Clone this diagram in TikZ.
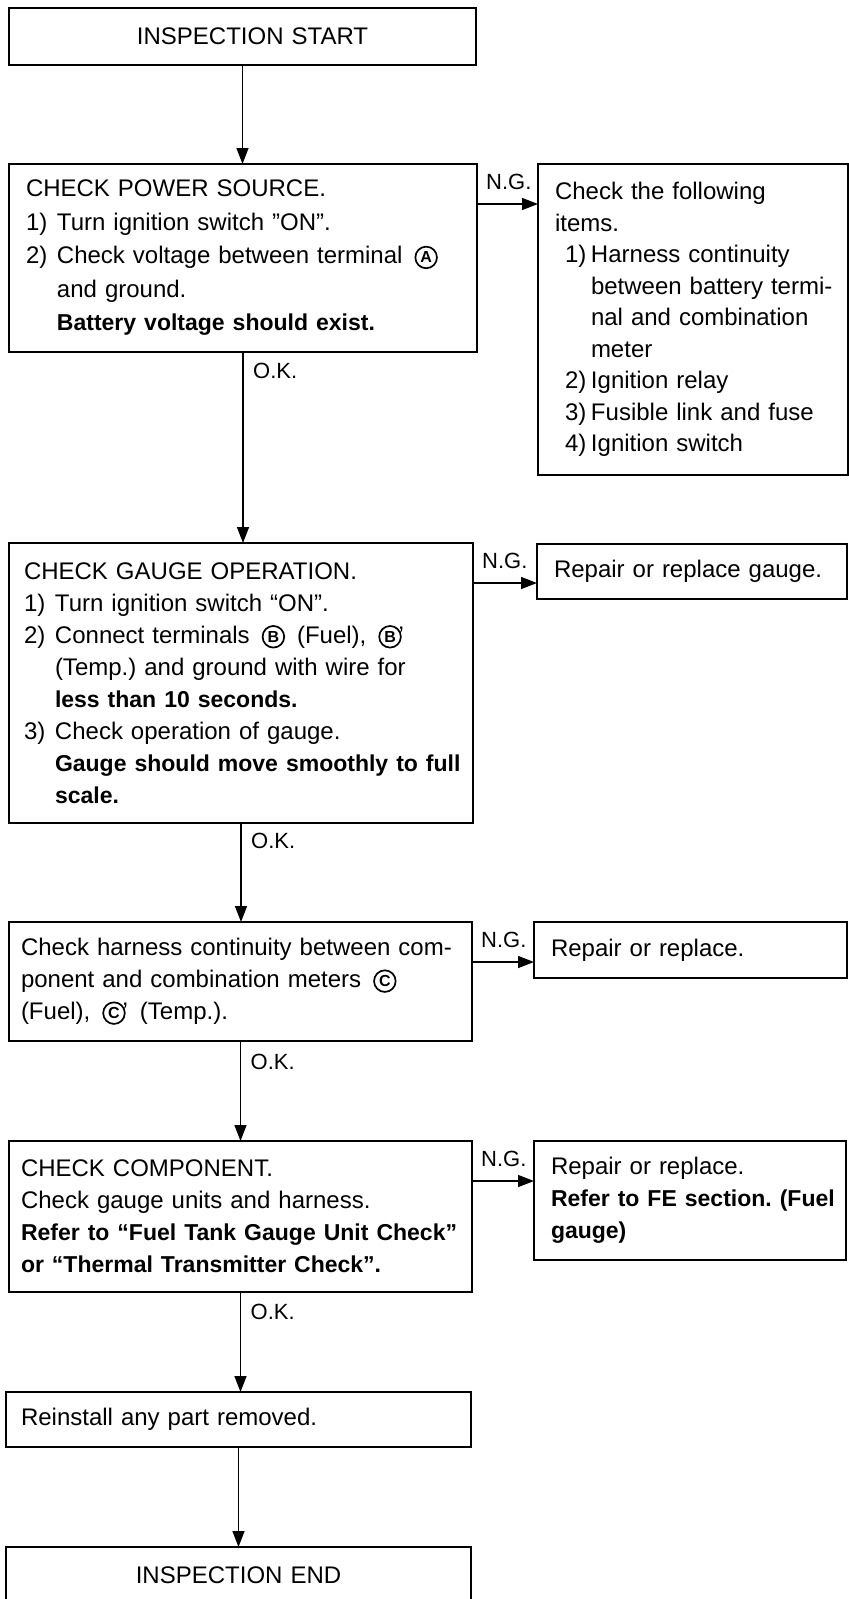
\documentclass[tikz,border=0pt]{standalone}
\usepackage{fontspec}
\setmainfont{Liberation Sans}
\usetikzlibrary{arrows.meta,calc}
\newcommand{\bt}[1]{{\bfseries\fontsize{23}{\the\baselineskip}\selectfont #1}}
\newcommand{\num}[1]{\makebox[31pt][l]{#1}}
\newcommand{\rnum}[1]{\hspace*{10pt}\makebox[26pt][l]{#1}}
\newsavebox\circA
\newsavebox\circB
\newsavebox\circC
\newcommand{\mkcirc}[2]{\sbox#1{\pgfpicture\pgfsetlinewidth{1.7pt}%
  \pgfpathcircle{\pgfpointorigin}{10.8pt}\pgfusepath{stroke}%
  \pgftext{\bfseries\fontsize{16}{16}\selectfont #2}%
  \pgfsetbaseline{-6.5pt}\endpgfpicture}}
\begin{document}
\frenchspacing
\mkcirc{\circA}{A}\mkcirc{\circB}{B}\mkcirc{\circC}{C}%
\begin{tikzpicture}[x=1pt,y=-1pt,
  box/.style={draw, line width=1.8pt, anchor=north west, outer sep=0pt,
    inner ysep=0pt, align=left},
  arr/.style={line width=1.4pt, -{Triangle[length=16pt,width=12pt]}},
  lab/.style={font=\fontsize{22}{22}\selectfont, inner sep=0pt, anchor=west}
]
\useasboundingbox (0,0) rectangle (849,1599);
\fill[white] (0,0) rectangle (849,1599);

% left column
\node[box, align=center, text width=467pt, inner xsep=0pt, minimum height=57pt,
  font=\fontsize{24}{30}\selectfont] (start) at (9,8) {\hspace*{20pt}INSPECTION START};

\node[box, text width=434pt, inner xsep=17pt, minimum height=188pt,
  font=\fontsize{24}{33.5}\selectfont] (b1) at (9,164) {%
\mbox{CHECK POWER SOURCE.}\\
\mbox{\num{1)}Turn ignition switch ''ON''.}\\
\mbox{\num{2)}Check voltage between terminal \,\usebox\circA}\\
\mbox{\hspace*{31pt}and ground.}\\
\mbox{\hspace*{31pt}\bt{Battery voltage should exist.}}};

\node[box, text width=276pt, inner xsep=17pt, minimum height=311pt,
  font=\fontsize{24}{31.5}\selectfont] (r1) at (538,164) {%
\mbox{Check the following}\\
\mbox{items.}\\
\mbox{\rnum{1)}Harness continuity}\\
\mbox{\hspace*{36pt}between battery termi-}\\
\mbox{\hspace*{36pt}nal and combination}\\
\mbox{\hspace*{36pt}meter}\\
\mbox{\rnum{2)}Ignition relay}\\
\mbox{\rnum{3)}Fusible link and fuse}\\
\mbox{\rnum{4)}Ignition switch}};

\node[box, text width=434pt, inner xsep=15pt, minimum height=280pt,
  font=\fontsize{24}{32}\selectfont] (b2) at (9,543) {%
\mbox{CHECK GAUGE OPERATION.}\\
\mbox{\num{1)}Turn ignition switch ``ON''.}\\
\mbox{\num{2)}Connect terminals \,\usebox\circB\, (Fuel), \,\usebox\circB\kern-3pt'}\\
\mbox{\hspace*{31pt}(Temp.) and ground with wire for}\\
\mbox{\hspace*{31pt}\bt{less than 10 seconds.}}\\
\mbox{\num{3)}Check operation of gauge.}\\
\mbox{\hspace*{31pt}\bt{Gauge should move smoothly to full}}\\
\mbox{\hspace*{31pt}\bt{scale.}}};

\node[box, text width=276pt, inner xsep=17pt, minimum height=55pt,
  font=\fontsize{24}{32}\selectfont] (r2) at (537,544) {\mbox{Repair or replace gauge.}};

\node[box, text width=439pt, inner xsep=12pt, minimum height=119pt,
  font=\fontsize{24}{32}\selectfont] (b3) at (9,922) {%
\mbox{Check harness continuity between com-}\\
\mbox{ponent and combination meters \,\usebox\circC}\\
\mbox{(Fuel), \,\usebox\circC\kern-3pt'\, (Temp.).}};

\node[box, text width=279pt, inner xsep=17pt, minimum height=56pt,
  font=\fontsize{24}{32}\selectfont] (r3) at (534,922) {\mbox{Repair or replace.}};

\node[box, text width=439pt, inner xsep=12pt, minimum height=151pt,
  font=\fontsize{24}{32}\selectfont] (b4) at (9,1141) {%
\mbox{CHECK COMPONENT.}\\
\mbox{Check gauge units and harness.}\\
\mbox{\bt{Refer to ``Fuel Tank Gauge Unit Check''}}\\
\mbox{\bt{or ``Thermal Transmitter Check''.}}};

\node[box, text width=278pt, inner xsep=17pt, minimum height=119pt,
  font=\fontsize{24}{32}\selectfont] (r4) at (534,1141) {%
\mbox{Repair or replace.}\\
\mbox{\bt{Refer to FE section. (Fuel}}\\
\mbox{\bt{gauge)}}};

\node[box, text width=435pt, inner xsep=15pt, minimum height=55pt,
  font=\fontsize{24}{32}\selectfont] (b5) at (6,1392) {\mbox{Reinstall any part removed.}};

\node[box, align=center, text width=465pt, inner xsep=0pt, minimum height=56pt,
  font=\fontsize{24}{30}\selectfont] (endb) at (6,1547) {INSPECTION END};

% vertical flow
\draw[arr] (start.south) -- (start.south |- b1.north);
\draw[arr] (b1.south) -- (b1.south |- b2.north);
\draw[arr] (b2.south) -- (b2.south |- b3.north);
\draw[arr] (b3.south) -- (b3.south |- b4.north);
\draw[arr] (b4.south) -- (b4.south |- b5.north);
\draw[arr] (b5.south) -- (b5.south |- endb.north);

% O.K. labels
\node[lab] (ok1) at ($(b1.south)+(10,19)$) {O.K.};
\node[lab] (ok2) at ($(b2.south)+(10,18)$) {O.K.};
\node[lab] (ok3) at ($(b3.south)+(10,21)$) {O.K.};
\node[lab] (ok4) at ($(b4.south)+(10,20)$) {O.K.};

% N.G. branches
\foreach \b/\r in {b1/r1, b2/r2, b3/r3, b4/r4}{
  \coordinate (ng\b) at ($(\b.north east)+(0,40)$);
  \draw[arr] (ng\b) -- (ng\b -| \r.west);
  \node[lab] at ($(ng\b)+(9,-22)$) {N.G.};
}
\end{tikzpicture}
\end{document}
